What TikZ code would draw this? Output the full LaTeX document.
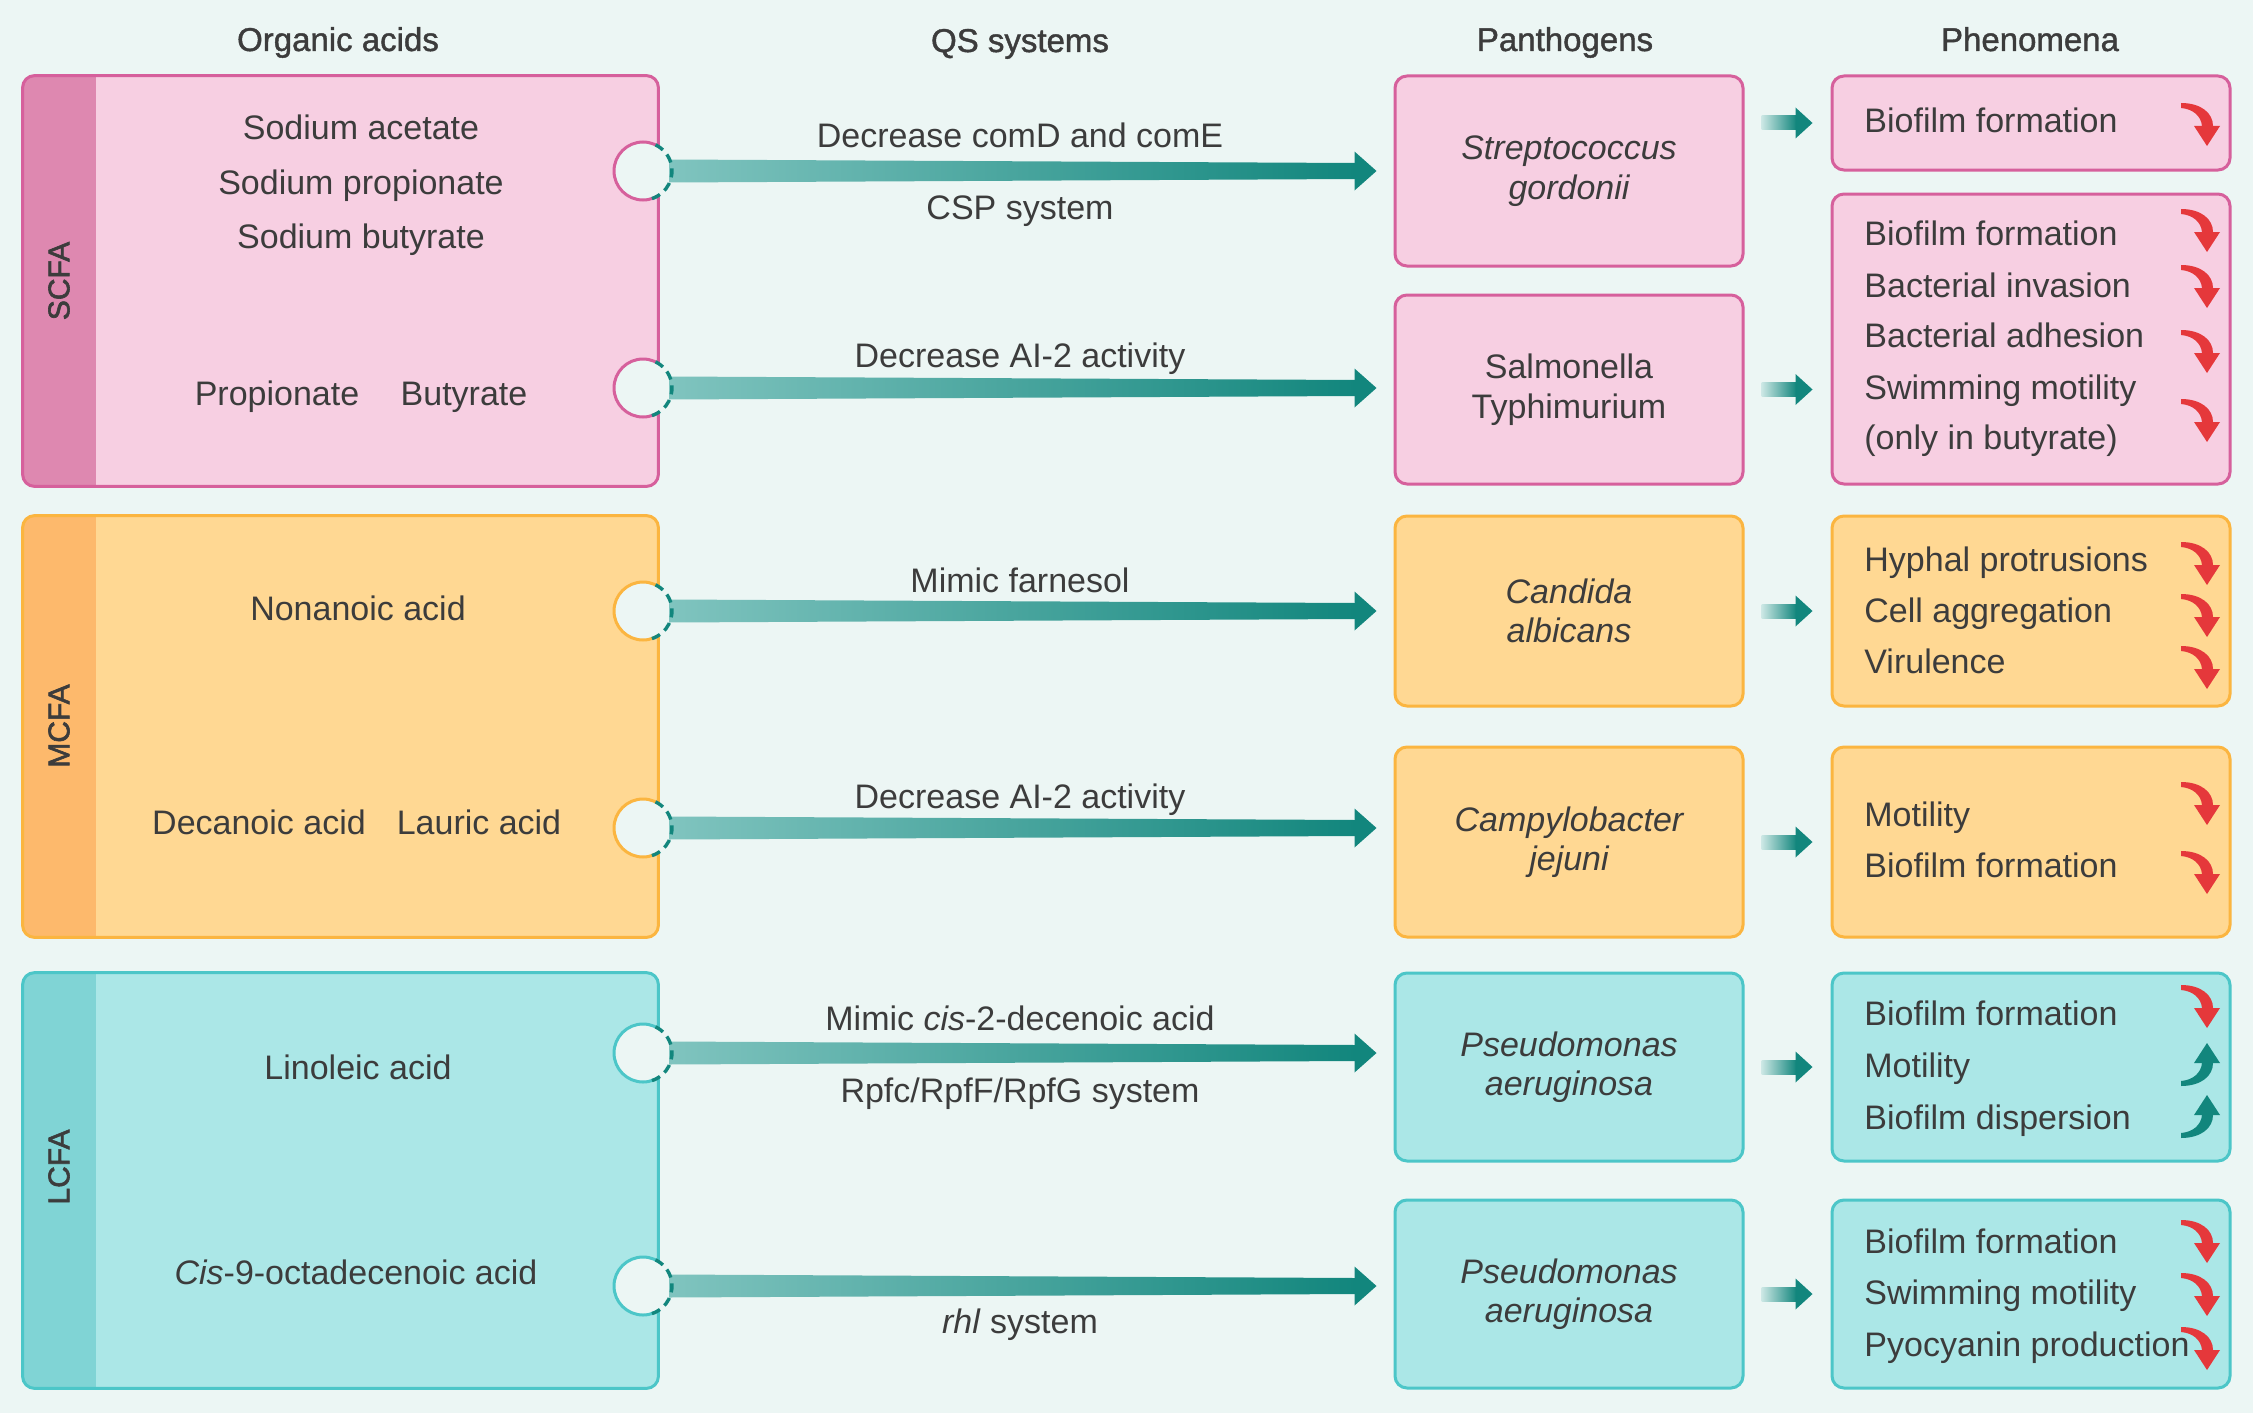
\documentclass[tikz,border=0pt]{standalone}
\usepackage{fontspec}
\setmainfont{Liberation Sans}
\newfontfamily\medfont{Liberation Sans}[FakeBold=1.3]
\newfontfamily\sidefont{Liberation Sans}[FakeBold=2]
\usetikzlibrary{calc,fit}
\definecolor{bg}{HTML}{ECF6F4}
\definecolor{txt}{HTML}{3C3C3C}
\definecolor{pinkF}{HTML}{F7CFE2}
\definecolor{pinkB}{HTML}{D6609C}
\definecolor{pinkS}{HTML}{DE88B0}
\definecolor{orF}{HTML}{FFD893}
\definecolor{orB}{HTML}{FBB540}
\definecolor{orS}{HTML}{FDB96C}
\definecolor{cyF}{HTML}{ABE7E7}
\definecolor{cyB}{HTML}{4CC6C8}
\definecolor{cyS}{HTML}{80D4D5}
\definecolor{tealD}{HTML}{12867D}
\definecolor{tealL}{HTML}{80C4BF}
\definecolor{redA}{HTML}{E5383B}
\tikzset{
  every node/.style={text=txt, font=\fontsize{17}{20}\selectfont},
  hdr/.style={font=\medfont\fontsize{16.5}{20}\selectfont, anchor=base},
  sidelab/.style={font=\sidefont\fontsize{15}{18}\selectfont, rotate=90},
  boxn/.style={inner sep=0pt, rounded corners=6pt},
  pbox/.style={boxn, draw=#1, line width=1.5pt},
  port/.style={circle, inner sep=0pt, minimum size=29pt, fill=bg},
  lbl/.style={anchor=base},
  pathtxt/.style={align=center, font=\itshape\fontsize{17}{19.75}\selectfont},
  phen/.style={anchor=base west, inner xsep=0pt},
  reddown/.pic={\fill[redA] (-26,-22) .. controls (-6,-22) and (6,-12) .. (6,1) -- (13,1) -- (0,21) -- (-13,1) -- (-5,1) .. controls (-6,-9) and (-14,-16) .. (-26,-17) -- cycle;},
  greenup/.pic={\fill[tealD] (-26,22) .. controls (-6,22) and (6,12) .. (6,-1) -- (13,-1) -- (0,-21) -- (-13,-1) -- (-5,-1) .. controls (-6,9) and (-14,16) .. (-26,17) -- cycle;},
}
\newcommand\groupbox[6]{%
  \node[boxn, fill=#4, fit={#2 #3}] (#1) {};
  \begin{scope}
    \clip[rounded corners=6pt] (#1.south west) rectangle (#1.north east);
    \fill[#5] (#1.north west) rectangle ($(#1.south west)+(73,0)$);
  \end{scope}
  \draw[#6, line width=1.5pt, rounded corners=6pt] (#1.south west) rectangle (#1.north east);
}
\newcommand\portat[4]{%
  \node[port] (#1) at #2 {};
  \begin{scope}
    \clip (#4.south west) rectangle (#4.north east);
    \draw[#3, line width=1.5pt] (#1.center) circle[radius=14.5pt];
  \end{scope}
}
\newcommand\portdash[1]{%
  \begin{scope}[shift={(#1.center)}, x=1pt, y=1pt]
    \draw[tealD, line width=1.7pt, dash pattern=on 4.5pt off 3pt] (-72:14.5) arc[start angle=-72, end angle=72, radius=14.5];
  \end{scope}
}
\newcommand\bigarrow[3]{%
  \coordinate (#3) at ($(#2.west |- #1.center)+(-17,0)$);
  \shade[left color=tealL, right color=tealD] ($(#1.center)+(26,-11.5)$) -- ($(#3)+(-21,-8)$) -- ($(#3)+(-21,8)$) -- ($(#1.center)+(26,11.5)$) -- cycle;
  \fill[tealD] ($(#3)+(-22,-19.5)$) -- (#3) -- ($(#3)+(-22,19.5)$) -- cycle;
}
\newcommand\smallarrow[2]{%
  \shade[left color=tealL!30!bg, right color=tealD] ($#1+(17,-7)$) -- ($#2+(-34,-7)$) -- ($#2+(-34,7)$) -- ($#1+(17,7)$) -- cycle;
  \fill[tealD] ($#2+(-35,-15.5)$) -- ($#2+(-18,0)$) -- ($#2+(-35,15.5)$) -- cycle;
}
\begin{document}
\begin{tikzpicture}[x=0.5pt, y=-0.5pt]
\fill[bg] (0,0) rectangle (2253,1413);
\useasboundingbox (0,0) rectangle (2253,1413);

% headers
\node[hdr] (h1) at (338,51) {Organic acids};
\node[hdr] (h2) at (1020,52) {QS systems};
\node[hdr] (h3) at (1565,51) {Panthogens};
\node[hdr] (h4) at (2030,51) {Phenomena};

% group boxes
\groupbox{scfa}{(23,76)}{(658,486)}{pinkF}{pinkS}{pinkB}
\groupbox{mcfa}{(23,516)}{(658,937)}{orF}{orS}{orB}
\groupbox{lcfa}{(23,973)}{(658,1388)}{cyF}{cyS}{cyB}
\node[sidelab] (l1) at (59,281) {SCFA};
\node[sidelab] (l2) at (59,726) {MCFA};
\node[sidelab] (l3) at (59,1167) {LCFA};

% acid texts
\node[lbl] (a1) at (361,140) {Sodium acetate};
\node[lbl] (a2) at (361,194) {Sodium propionate};
\node[lbl] (a3) at (361,248) {Sodium butyrate};
\node[lbl] (a4) at (277,405) {Propionate};
\node[lbl] (a5) at (464,405) {Butyrate};
\node[lbl] (a6) at (358,620) {Nonanoic acid};
\node[lbl] (a7) at (259,834) {Decanoic acid};
\node[lbl] (a8) at (479,834) {Lauric acid};
\node[lbl] (a9) at (358,1079) {Linoleic acid};
\node[lbl] (a10) at (356,1284) {\textit{Cis}-9-octadecenoic acid};

% pathogen boxes
\node[pbox=pinkB, fill=pinkF, fit={(1395,76)(1743,266)}] (s1) {};
\node[pbox=pinkB, fill=pinkF, fit={(1395,295)(1743,484)}] (s2) {};
\node[pbox=orB, fill=orF, fit={(1395,516)(1743,706)}] (s3) {};
\node[pbox=orB, fill=orF, fit={(1395,747)(1743,937)}] (s4) {};
\node[pbox=cyB, fill=cyF, fit={(1395,973)(1743,1161)}] (s5) {};
\node[pbox=cyB, fill=cyF, fit={(1395,1200)(1743,1388)}] (s6) {};
\node[pathtxt] (t1) at (s1.center) {Streptococcus\\gordonii};
\node[pathtxt, font=\fontsize{17}{19.75}\selectfont] (t2) at (s2.center) {Salmonella\\Typhimurium};
\node[pathtxt] (t3) at (s3.center) {Candida\\albicans};
\node[pathtxt] (t4) at (s4.center) {Campylobacter\\jejuni};
\node[pathtxt] (t5) at (s5.center) {Pseudomonas\\aeruginosa};
\node[pathtxt] (t6) at (s6.center) {Pseudomonas\\aeruginosa};

% phenomena boxes
\node[pbox=pinkB, fill=pinkF, fit={(1832,76)(2230,170)}] (ph1) {};
\node[pbox=pinkB, fill=pinkF, fit={(1832,194)(2230,484)}] (ph2) {};
\node[pbox=orB, fill=orF, fit={(1832,516)(2230,706)}] (ph3) {};
\node[pbox=orB, fill=orF, fit={(1832,747)(2230,937)}] (ph4) {};
\node[pbox=cyB, fill=cyF, fit={(1832,973)(2230,1161)}] (ph5) {};
\node[pbox=cyB, fill=cyF, fit={(1832,1200)(2230,1388)}] (ph6) {};

\node[phen] (f1) at (1864,133) {Biofilm formation};
\node[phen] (f2) at (1864,245) {Biofilm formation};
\node[phen] (f3) at (1864,297) {Bacterial invasion};
\node[phen] (f4) at (1864,347) {Bacterial adhesion};
\node[phen] (f5) at (1864,399) {Swimming motility};
\node[phen] (f6) at (1864,449) {(only in butyrate)};
\node[phen] (f7) at (1864,571) {Hyphal protrusions};
\node[phen] (f8) at (1864,622) {Cell aggregation};
\node[phen] (f9) at (1864,673) {Virulence};
\node[phen] (f10) at (1864,826) {Motility};
\node[phen] (f11) at (1864,877) {Biofilm formation};
\node[phen] (f12) at (1864,1025) {Biofilm formation};
\node[phen] (f13) at (1864,1077) {Motility};
\node[phen] (f14) at (1864,1129) {Biofilm dispersion};
\node[phen] (f15) at (1864,1253) {Biofilm formation};
\node[phen] (f16) at (1864,1304) {Swimming motility};
\node[phen] (f17) at (1864,1356) {Pyocyanin production};

% ports
\portat{p1}{(643,171)}{pinkB}{scfa}
\portat{p2}{(643,388)}{pinkB}{scfa}
\portat{p3}{(643,611)}{orB}{mcfa}
\portat{p4}{(643,828)}{orB}{mcfa}
\portat{p5}{(643,1053)}{cyB}{lcfa}
\portat{p6}{(643,1286)}{cyB}{lcfa}

% big arrows
\bigarrow{p1}{s1}{e1}
\bigarrow{p2}{s2}{e2}
\bigarrow{p3}{s3}{e3}
\bigarrow{p4}{s4}{e4}
\bigarrow{p5}{s5}{e5}
\bigarrow{p6}{s6}{e6}
\portdash{p1}\portdash{p2}\portdash{p3}\portdash{p4}\portdash{p5}\portdash{p6}

% arrow labels
\node[lbl] (q1) at (1020,148) {Decrease comD and comE};
\node[lbl] (q2) at (1020,219) {CSP system};
\node[lbl] (q3) at (1020,367) {Decrease AI-2 activity};
\node[lbl] (q4) at (1020,592) {Mimic farnesol};
\node[lbl] (q5) at (1020,808) {Decrease AI-2 activity};
\node[lbl] (q6) at (1020,1030) {Mimic \textit{cis}-2-decenoic acid};
\node[lbl] (q7) at (1020,1102) {Rpfc/RpfF/RpfG system};
\node[lbl] (q8) at (1020,1333) {\textit{rhl} system};

% small arrows
\smallarrow{(s1.east |- ph1.west)}{(ph1.west)}
\smallarrow{(s2.east)}{(s2.east -| ph2.west)}
\smallarrow{(s3.east)}{(s3.east -| ph3.west)}
\smallarrow{(s4.east)}{(s4.east -| ph4.west)}
\smallarrow{(s5.east)}{(s5.east -| ph5.west)}
\smallarrow{(s6.east)}{(s6.east -| ph6.west)}

% trend arrows
\foreach \yy in {125,231,287,352,421,564,616,668,804,873,1007,1242,1295,1349}
  \pic at (2207,\yy) {reddown};
\foreach \yy in {1064,1116}
  \pic at (2207,\yy) {greenup};
\end{tikzpicture}
\end{document}
